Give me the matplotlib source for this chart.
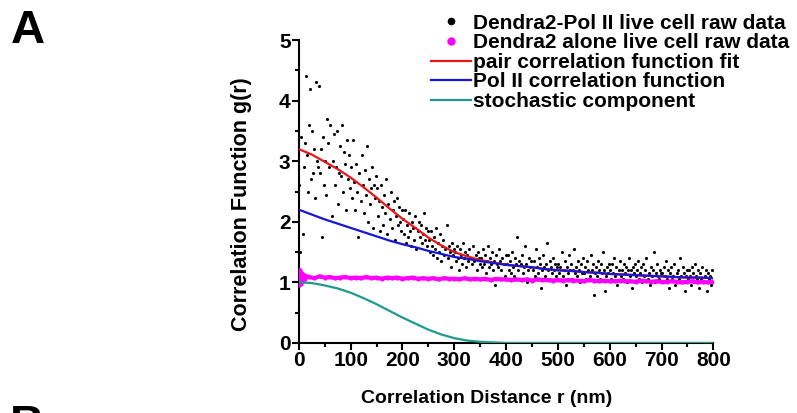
import numpy as np
import matplotlib
matplotlib.use("Agg")
import matplotlib.pyplot as plt
from matplotlib.lines import Line2D
from matplotlib.ticker import MultipleLocator

plt.rcParams['font.family'] = ['Liberation Sans', 'DejaVu Sans']
plt.rcParams['font.weight'] = 'bold'

# raw Pol II data, one value every 2 nm (r = 1, 3, ..., 799)
pol_raw = [
    2.6, 1.5, 3.4, 1.8, 2.9, 3.3, 4.4, 3.1, 2.5, 3.6, 4.2, 2.7, 3.5, 2.8, 3.2, 2.4, 4.3, 3.0, 2.9, 4.25, 2.8, 3.2, 1.75, 3.4, 2.6,
    3.0, 2.45, 3.7, 3.3, 2.9, 3.6, 2.1, 3.0, 3.45, 2.6, 2.9, 3.5, 2.3, 2.8, 3.25, 2.75, 3.6, 2.5, 3.15, 2.95, 2.2, 3.35, 2.7, 3.1, 2.55,
    2.9, 2.4, 3.35, 2.65, 2.2, 2.95, 2.5, 1.75, 2.8, 2.35, 3.1, 2.6, 2.15, 2.85, 2.45, 3.25, 2.0, 2.7, 2.3, 2.55, 2.9, 1.9, 2.6, 2.4, 2.75,
    2.55, 2.1, 2.35, 1.85, 2.6, 2.25, 1.95, 2.45, 2.15, 2.7, 1.8, 2.3, 2.05, 2.5, 1.9, 2.2, 2.35, 1.7, 2.1, 2.4, 1.95, 2.25, 2.0, 1.85, 2.2,
    2.05, 1.8, 2.2, 1.65, 1.95, 1.75, 2.15, 1.85, 1.6, 2.0, 1.9, 1.7, 2.1, 1.55, 1.85, 2.0, 1.75, 1.95, 1.65, 1.8, 2.15, 1.7, 1.9, 1.6, 1.85,
    1.7, 1.5, 1.85, 1.6, 1.45, 1.75, 1.55, 1.9, 1.4, 1.65, 1.5, 1.8, 1.35, 1.6, 1.7, 1.45, 1.55, 1.95, 1.4, 1.6, 1.5, 1.25, 1.65, 1.45, 1.55,
    1.5, 1.35, 1.6, 1.4, 1.2, 1.55, 1.45, 1.3, 1.65, 1.4, 1.5, 1.25, 1.45, 1.35, 1.55, 1.05, 1.4, 1.3, 1.6, 1.35, 1.45, 1.2, 1.5, 1.4, 1.3,
    1.4, 1.25, 1.55, 1.3, 1.45, 1.15, 1.35, 1.6, 1.25, 1.4, 1.3, 1.5, 1.2, 1.35, 0.95, 1.45, 1.3, 1.25, 1.55, 1.35, 1.2, 1.4, 1.3, 1.1, 1.45,
    1.3, 1.45, 1.2, 1.35, 1.15, 1.5, 1.25, 1.1, 1.4, 1.3, 1.75, 1.2, 1.35, 1.05, 1.3, 1.45, 1.15, 1.25, 1.6, 1.3, 1.0, 1.2, 1.4, 1.25, 1.35,
    1.2, 1.35, 1.1, 1.55, 1.25, 1.15, 1.4, 1.3, 0.9, 1.2, 1.45, 1.25, 1.1, 1.3, 1.65, 1.2, 1.05, 1.35, 1.25, 1.15, 1.4, 1.2, 1.3, 1.1, 1.25,
    1.3, 1.15, 1.25, 1.5, 1.1, 1.2, 1.35, 0.95, 1.25, 1.15, 1.45, 1.2, 1.3, 1.05, 1.2, 1.55, 1.15, 1.25, 1.1, 1.35, 1.2, 1.0, 1.3, 1.15, 1.4,
    1.15, 1.25, 1.05, 1.35, 1.2, 1.1, 1.45, 1.2, 1.3, 0.8, 1.15, 1.25, 1.1, 1.35, 1.2, 1.05, 1.3, 1.15, 1.5, 1.2, 0.85, 1.1, 1.25, 1.15, 1.3,
    1.2, 1.05, 1.3, 1.15, 1.4, 1.1, 1.25, 0.95, 1.2, 1.35, 1.1, 1.2, 1.05, 1.3, 1.15, 1.25, 1.0, 1.2, 1.4, 1.1, 1.2, 0.9, 1.25, 1.15, 1.3,
    1.1, 1.2, 1.35, 1.05, 1.15, 1.25, 1.0, 1.3, 1.1, 1.2, 1.4, 1.05, 1.15, 0.95, 1.25, 1.1, 1.2, 1.5, 1.0, 1.15, 1.3, 1.1, 1.05, 1.2, 1.15,
    1.15, 1.0, 1.25, 1.1, 1.35, 1.05, 1.2, 0.9, 1.15, 1.25, 1.05, 1.1, 1.3, 0.95, 1.15, 1.2, 1.05, 1.4, 1.1, 1.0, 1.25, 1.15, 0.85, 1.1, 1.2,
    1.05, 1.2, 1.1, 0.95, 1.25, 1.15, 1.0, 1.3, 1.1, 1.05, 1.2, 0.9, 1.15, 1.05, 1.25, 1.0, 1.1, 1.2, 0.85, 1.15, 1.05, 1.1, 0.95, 1.2, 1.0,
]
pol_r = np.arange(1, 800, 2)

# Dendra2 alone
dendra_r = [0, 2, 4, 6, 8, 10, 12, 14] + list(range(20, 801, 10))
dendra_raw = [
    0.95, 1.2, 0.98, 1.15, 1.02, 1.12, 1.05, 1.1,
    1.09, 1.07, 1.10, 1.08, 1.09, 1.07, 1.08, 1.09, 1.07,
    1.08, 1.07, 1.09, 1.07, 1.08, 1.06, 1.08, 1.07, 1.08, 1.06,
    1.07, 1.08, 1.06, 1.07, 1.06, 1.07, 1.05, 1.07, 1.06, 1.06,
    1.05, 1.07, 1.05, 1.06, 1.05, 1.06, 1.04, 1.06, 1.05, 1.05,
    1.04, 1.05, 1.04, 1.05, 1.03, 1.05, 1.04, 1.04, 1.03, 1.04,
    1.03, 1.04, 1.03, 1.03, 1.02, 1.04, 1.03, 1.02, 1.03, 1.02,
    1.02, 1.03, 1.02, 1.02, 1.01, 1.03, 1.02, 1.01, 1.02, 1.01,
    1.01, 1.02, 1.01, 1.00, 1.01, 1.02, 1.00, 1.01, 1.00, 1.01,
]

# fitted curves, every 25 nm
fit_r = list(range(0, 801, 25))
pol_corr = [2.20, 2.12, 2.04, 1.97, 1.90, 1.83, 1.76, 1.69, 1.63, 1.58, 1.52, 1.47, 1.42, 1.39, 1.35, 1.32, 1.29,
            1.27, 1.25, 1.22, 1.20, 1.19, 1.17, 1.16, 1.14, 1.13, 1.12, 1.11, 1.10, 1.09, 1.08, 1.08, 1.07]
stoch = [1.0, 0.99, 0.95, 0.90, 0.83, 0.74, 0.64, 0.53, 0.42, 0.32, 0.22, 0.14, 0.08, 0.04, 0.02, 0.01, 0.0,
         0, 0, 0, 0, 0, 0, 0, 0, 0, 0, 0, 0, 0, 0, 0, 0]
pair_fit = [3.20, 3.11, 2.99, 2.87, 2.73, 2.57, 2.40, 2.22, 2.05, 1.90, 1.74, 1.61, 1.50, 1.43, 1.37, 1.33, 1.29,
            1.27, 1.25, 1.22, 1.20, 1.19, 1.17, 1.16, 1.14, 1.13, 1.12, 1.11, 1.10, 1.09, 1.08, 1.08, 1.07]

c_red = '#e8161b'
c_blue = '#1616d8'
c_teal = '#1f9a8c'
c_mag = '#ff00ff'

fig = plt.figure(figsize=(7.97, 4.13), dpi=100)
ax = fig.add_axes([0.375, 0.1695, 0.52, 0.7335])

ax.scatter(pol_r, pol_raw, s=5, color='black', linewidths=0, zorder=3)
ax.plot(dendra_r, dendra_raw, color=c_mag, lw=3, marker='o', ms=2, zorder=4)
ax.plot(fit_r, pair_fit, color=c_red, lw=1.6, zorder=5)
ax.plot(fit_r, pol_corr, color=c_blue, lw=1.6, zorder=5)
ax.plot(fit_r, stoch, color=c_teal, lw=1.6, zorder=5)

ax.set_xlim(0, 800)
ax.set_ylim(0, 5)
ax.xaxis.set_major_locator(MultipleLocator(100))
ax.xaxis.set_minor_locator(MultipleLocator(50))
ax.yaxis.set_major_locator(MultipleLocator(1))
ax.yaxis.set_minor_locator(MultipleLocator(0.5))
for s in ['top', 'right']:
    ax.spines[s].set_visible(False)
for s in ['left', 'bottom']:
    ax.spines[s].set_linewidth(1.5)
ax.tick_params(which='major', length=5, width=1.5, labelsize=15, pad=1)
ax.tick_params(which='minor', length=3, width=1.5)
for lab in ax.get_xticklabels() + ax.get_yticklabels():
    lab.set_fontweight('bold')

ax.set_xlabel('Correlation Distance r (nm)', fontsize=14, fontweight='bold')
ax.set_ylabel('Correlation Function g(r)', fontsize=15.5, fontweight='bold')
ax.xaxis.set_label_coords(0.452, -0.155)
ax.yaxis.set_label_coords(-0.113, 0.46)

handles = [
    Line2D([], [], ls='none', marker='o', ms=4.5, color='black'),
    Line2D([], [], ls='none', marker='o', ms=5, color=c_mag),
    Line2D([], [], color=c_red, lw=1.6),
    Line2D([], [], color=c_blue, lw=1.6),
    Line2D([], [], color=c_teal, lw=1.6),
]
labels = ['Dendra2-Pol II live cell raw data', 'Dendra2 alone live cell raw data',
          'pair correlation function fit', 'Pol II correlation function', 'stochastic component']
fig.legend(handles, labels, loc='upper right', bbox_to_anchor=(1.007, 1.0), frameon=False,
           prop={'size': 15, 'weight': 'bold'}, borderpad=0.15, labelspacing=0.03,
           handlelength=1.9, handletextpad=0.1)

fig.text(0.013, 0.896, 'A', fontsize=34, fontweight='bold')
fig.text(0.013, -0.06, 'B', fontsize=34, fontweight='bold')

fig.savefig('out.png', dpi=100)
